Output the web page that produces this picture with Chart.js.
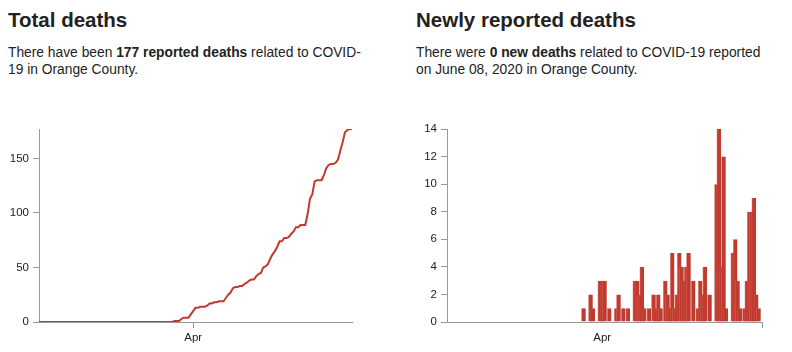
<!DOCTYPE html>
<html>
<head>
<meta charset="utf-8">
<script src="https://cdn.jsdelivr.net/npm/chart.js@4.4.0/dist/chart.umd.min.js"></script>
<style>
  body { margin: 0; width: 792px; height: 352px; background: #fff; position: relative; overflow: hidden;
         font-family: "Liberation Sans", Arial, Helvetica, sans-serif; color: #222; }
  h2 { position: absolute; margin: 0; font-size: 20.5px; line-height: 20px; font-weight: bold; }
  p { position: absolute; margin: 0; font-size: 13.8px; line-height: 17px; white-space: nowrap; }
  canvas { position: absolute; top: 100px; }
</style>
</head>
<body>
<h2 style="left:8px;top:10px">Total deaths</h2>
<p style="left:8px;top:44px">There have been <b>177 reported deaths</b> related to COVID-<br>19 in Orange County.</p>
<h2 style="left:416px;top:10px">Newly reported deaths</h2>
<p style="left:416px;top:44px">There were <b>0 new deaths</b> related to COVID-19 reported<br>on June 08, 2020 in Orange County.</p>
<canvas id="totalChart" width="392" height="252" style="left:0"></canvas>
<canvas id="newChart" width="392" height="252" style="left:400px"></canvas>
<script>
// Orange County COVID-19 deaths, one value per day from 2020-01-26 to 2020-06-08
var firstDay = '2020-01-26';

var newDeaths = [
  0, 0, 0, 0, 0, 0,                                              // Jan 26-31
  0, 0, 0, 0, 0, 0, 0, 0, 0, 0, 0, 0, 0, 0, 0, 0, 0, 0, 0, 0,    // Feb
  0, 0, 0, 0, 0, 0, 0, 0, 0,
  0, 0, 0, 0, 0, 0, 0, 0, 0, 0, 0, 0, 0, 0, 0, 0, 0, 0, 0, 0,    // Mar 1-23
  0, 0, 0,
  1, 0, 0, 2, 1, 0, 0, 3,                                        // Mar 24-31
  3, 3, 0, 1, 0, 0, 1, 2, 0, 1, 0, 1, 0, 0, 3, 3, 2, 4, 1, 0,    // Apr
  1, 0, 2, 1, 2, 1, 0, 3, 2, 1,
  5, 1, 2, 5, 4, 3, 4, 5, 0, 3, 0, 1, 3, 2, 4, 0, 2, 0, 0, 10,   // May
  14, 4, 12, 1, 0, 0, 5, 6, 3, 1, 0,
  1, 3, 8, 8, 9, 2, 1, 0                                         // Jun 1-8
];

var totalDeaths = [
  0, 0, 0, 0, 0, 0,
  0, 0, 0, 0, 0, 0, 0, 0, 0, 0, 0, 0, 0, 0, 0, 0, 0, 0, 0, 0,
  0, 0, 0, 0, 0, 0, 0, 0, 0,
  0, 0, 0, 0, 0, 0, 0, 0, 0, 0, 0, 0, 0, 0, 0, 0, 0, 0, 0, 0,
  0, 0, 0,
  1, 1, 1, 3, 4, 4, 4, 7,
  10, 13, 13, 14, 14, 14, 15, 17, 17, 18, 18, 19, 19, 19, 22, 25, 27, 31, 32, 32,
  33, 33, 35, 36, 38, 39, 39, 42, 44, 45,
  50, 51, 53, 58, 62, 65, 69, 74, 74, 77, 77, 78, 81, 83, 87, 87, 89, 89, 89, 99,
  113, 117, 129, 130, 130, 130, 135, 141, 144, 145, 145,
  146, 149, 157, 165, 174, 176, 177, 177
];

var totalTicks = [0, 50, 100, 150];
var newTicks = [0, 2, 4, 6, 8, 10, 12, 14];
var monthTicks = { '2020-04-01': 'Apr' };

// one date label per value
var days = [];
var day = new Date(firstDay + 'T00:00:00Z');
for (var i = 0; i < newDeaths.length; i++) {
  days.push(day.toISOString().slice(0, 10));
  day.setUTCDate(day.getUTCDate() + 1);
}

var red = '#c13a2f';
var axisGray = '#9a9a9a';
var tickFont = { family: '"Liberation Sans", Arial, sans-serif', size: 11.5 };

function xAxis(offset) {
  return {
    type: 'category',
    offset: offset,
    afterBuildTicks: function (axis) {
      axis.ticks = axis.ticks.filter(function (t) { return monthTicks[days[t.value]]; });
    },
    afterFit: function (axis) { axis.height = 30; },
    ticks: {
      autoSkip: false, maxRotation: 0, padding: 3, color: '#222', font: tickFont,
      callback: function (value) { return monthTicks[days[value]]; }
    },
    grid: { drawOnChartArea: false, color: axisGray, tickLength: 6 },
    border: { color: axisGray }
  };
}

function yAxis(tickList, maxValue, width) {
  return {
    min: 0,
    max: maxValue,
    afterBuildTicks: function (axis) {
      axis.ticks = tickList.map(function (v) { return { value: v }; });
    },
    afterFit: function (axis) { axis.width = width; },
    ticks: { padding: 4, color: '#222', font: tickFont },
    grid: { drawOnChartArea: false, color: axisGray, tickLength: 6 },
    border: { color: axisGray }
  };
}

new Chart(document.getElementById('totalChart'), {
  type: 'line',
  data: {
    labels: days,
    datasets: [{
      data: totalDeaths,
      borderColor: red,
      borderWidth: 2,
      pointRadius: 0,
      tension: 0,
      fill: false
    }]
  },
  options: {
    responsive: false,
    animation: false,
    layout: { padding: { top: 29, right: 40, left: 0, bottom: 0 } },
    scales: {
      x: xAxis(false),
      y: yAxis(totalTicks, Math.max.apply(null, totalDeaths), 39)
    },
    plugins: { legend: { display: false }, tooltip: { enabled: false } }
  }
});

new Chart(document.getElementById('newChart'), {
  type: 'bar',
  data: {
    labels: days,
    datasets: [{
      data: newDeaths,
      backgroundColor: red,
      borderColor: '#d9776d',
      borderWidth: { top: 0, right: 0, bottom: 0, left: 0.6 },
      categoryPercentage: 1,
      barPercentage: 2
    }]
  },
  options: {
    responsive: false,
    animation: false,
    layout: { padding: { top: 29, right: 30, left: 0, bottom: 0 } },
    scales: {
      x: xAxis(true),
      y: yAxis(newTicks, Math.max.apply(null, newDeaths), 47)
    },
    plugins: { legend: { display: false }, tooltip: { enabled: false } }
  }
});
</script>
</body>
</html>
